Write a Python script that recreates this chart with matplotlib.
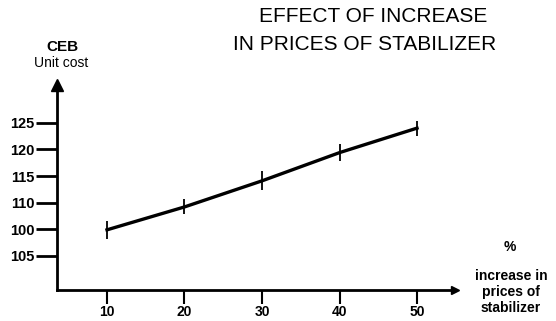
import numpy as np
import matplotlib.pyplot as plt

plt.rcParams['font.family'] = ['Liberation Sans', 'DejaVu Sans']

# % increase in price of stabilizer
pct_increase = [10, 20, 30, 40, 50]
# CEB unit cost (in tick position units)
unit_cost = [104.9, 109.2, 114.1, 119.4, 124.0]
# half length of the small vertical bars at each point
bar_half = [1.7, 1.4, 1.8, 1.6, 1.4]

x_ticks = [10, 20, 30, 40, 50]
x_labels = ['10', '20', '30', '40', '50']
# the y labels in the original are printed in this (odd) order
y_ticks = [100, 105, 110, 115, 120, 125]
y_labels = ['105', '100', '110', '115', '120', '125']

fig = plt.figure(figsize=(5.56, 3.21), dpi=100)
ax = fig.add_axes([57 / 556, 31 / 321, 398 / 556, 205 / 321])

ax.errorbar(pct_increase, unit_cost, yerr=bar_half, color='k', lw=2.4,
            elinewidth=1.3, capsize=0)

ax.set_xlim(3.55, 54.9)
ax.set_ylim(93.6, 132.1)

for s in ['top', 'right']:
    ax.spines[s].set_visible(False)
ax.spines['left'].set_linewidth(2)
ax.spines['bottom'].set_linewidth(2)

# arrow heads at the axis ends
ax.plot(1, 0, '>k', ms=6, transform=ax.transAxes, clip_on=False)
ax.plot(0, 1, '^k', ms=8, transform=ax.transAxes, clip_on=False)

ax.set_xticks(x_ticks)
ax.set_xticklabels(x_labels)
ax.set_yticks(y_ticks)
ax.set_yticklabels(y_labels)
ax.tick_params(axis='y', length=15, width=2, labelsize=10.5, pad=1)
ax.tick_params(axis='x', length=10, width=1.5, labelsize=10, pad=1)
for lab in ax.get_xticklabels() + ax.get_yticklabels():
    lab.set_fontweight('bold')

fig.text(373 / 556, 1 - 17 / 321, 'EFFECT OF INCREASE', ha='center',
         va='center', fontsize=15)
fig.text(365 / 556, 1 - 45 / 321, 'IN PRICES OF STABILIZER', ha='center',
         va='center', fontsize=15)

fig.text(62 / 556, 1 - 47 / 321, 'CEB', ha='center', va='center',
         fontsize=11, fontweight='bold')
fig.text(61 / 556, 1 - 63 / 321, 'Unit cost', ha='center', va='center',
         fontsize=10)

fig.text(510 / 556, 1 - 247 / 321, '%', ha='center', va='center',
         fontsize=10, fontweight='bold')
fig.text(511 / 556, 1 - 292 / 321, 'increase in\nprices of\nstabilizer',
         ha='center', va='center', fontsize=10, fontweight='bold',
         linespacing=1.15)

fig.savefig('out.png', dpi=100)
